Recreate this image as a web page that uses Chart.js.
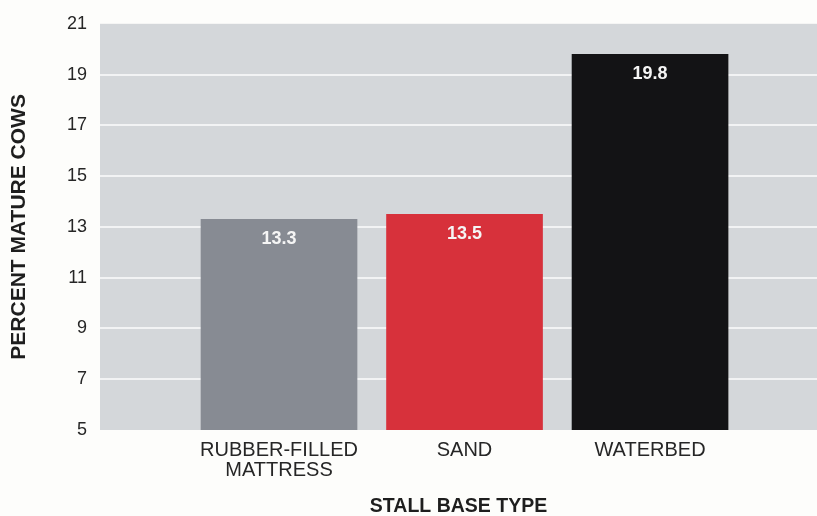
<!DOCTYPE html>
<html>
<head>
<meta charset="utf-8">
<title>Stall base type</title>
<script src="https://cdn.jsdelivr.net/npm/chart.js@4.4.0/dist/chart.umd.min.js"></script>
<style>
  html, body { margin: 0; padding: 0; background: #fdfdfb; }
  #wrap { width: 817px; height: 516px; }
</style>
</head>
<body>
<div id="wrap"><canvas id="cowChart"></canvas></div>
<script>
// stall base types and their share of mature cows
const categories = [["RUBBER-FILLED", "MATTRESS"], "SAND", "WATERBED"];
const positions = [1, 2, 3];
const percentMature = [13.3, 13.5, 19.8];
const barColors = ["#878b93", "#d7313b", "#131315"];
const yTicks = [5, 7, 9, 11, 13, 15, 17, 19, 21];

const fontFamily = "'Liberation Sans', Arial, Helvetica, sans-serif";

// gray panel behind the bars
const plotBackground = {
  id: "plotBackground",
  beforeDraw(chart) {
    const { ctx, chartArea } = chart;
    ctx.save();
    ctx.fillStyle = "#d4d7da";
    ctx.fillRect(chartArea.left, chartArea.top, chart.width - chartArea.left, chartArea.bottom - chartArea.top);
    ctx.restore();
  }
};

// white value text near the top of each bar
const valueLabels = {
  id: "valueLabels",
  afterDatasetsDraw(chart) {
    const ctx = chart.ctx;
    const meta = chart.getDatasetMeta(0);
    ctx.save();
    ctx.fillStyle = "#f5f5f5";
    ctx.font = "bold 18px " + fontFamily;
    ctx.textAlign = "center";
    ctx.textBaseline = "middle";
    meta.data.forEach((bar, i) => {
      ctx.fillText(percentMature[i].toFixed(1), bar.x, bar.y + 20);
    });
    ctx.restore();
  }
};

new Chart(document.getElementById("cowChart"), {
  type: "bar",
  data: {
    datasets: [{
      data: positions.map((x, i) => ({ x: x, y: percentMature[i] })),
      backgroundColor: barColors,
      borderWidth: 0,
      barThickness: 156
    }]
  },
  options: {
    responsive: true,
    maintainAspectRatio: false,
    animation: false,
    layout: { padding: { top: 20, left: 0, right: 0, bottom: 0 } },
    plugins: {
      legend: { display: false },
      tooltip: { enabled: false }
    },
    scales: {
      x: {
        type: "linear",
        offset: false,
        bounds: "ticks",
        min: 0.035,
        max: 3.9,
        grid: { display: false, drawTicks: false, offset: false },
        border: { display: false },
        afterBuildTicks(scale) {
          scale.ticks = positions.map(v => ({ value: v }));
        },
        afterFit(scale) {
          scale.height = 86;
        },
        ticks: {
          padding: 10,
          color: "#262626",
          font: { family: fontFamily, size: 20, lineHeight: 1 },
          maxRotation: 0,
          callback: value => categories[positions.indexOf(value)]
        },
        title: {
          display: true,
          text: "STALL BASE TYPE",
          color: "#1e1e1e",
          font: { family: fontFamily, size: 19.5, weight: "bold", lineHeight: 1 },
          padding: { top: 0, bottom: 0 }
        }
      },
      y: {
        min: 5,
        max: 21,
        afterBuildTicks(scale) {
          scale.ticks = yTicks.map(v => ({ value: v }));
        },
        afterFit(scale) {
          scale.width = 100;
        },
        grid: {
          drawTicks: false,
          lineWidth: 2,
          color: ctx => (ctx.tick && (ctx.tick.value === 5 || ctx.tick.value === 21)) ? "rgba(0,0,0,0)" : "#f2f3f4"
        },
        border: { display: false },
        ticks: {
          padding: 13,
          color: "#262626",
          font: { family: fontFamily, size: 18 }
        },
        title: {
          display: true,
          text: "PERCENT MATURE COWS",
          color: "#1e1e1e",
          font: { family: fontFamily, size: 21, weight: "bold" },
          padding: { top: 7, bottom: 0 }
        }
      }
    }
  },
  plugins: [plotBackground, valueLabels]
});
</script>
</body>
</html>
